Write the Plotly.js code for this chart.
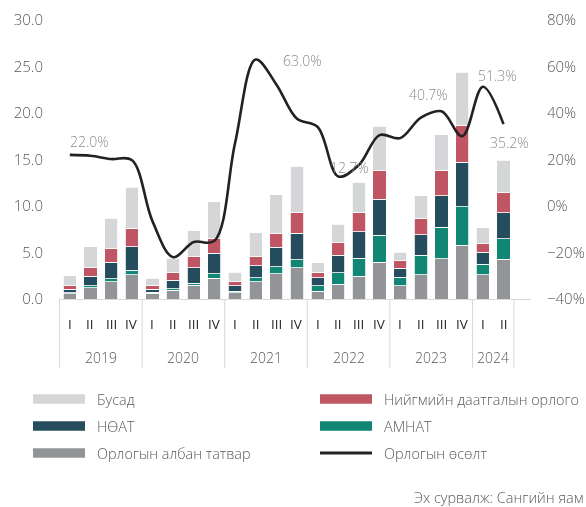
<!DOCTYPE html>
<html>
<head>
<meta charset="utf-8">
<script src="https://cdn.plot.ly/plotly-3.0.1.min.js"></script>
<style>
  html, body { margin: 0; padding: 0; background: #fff; }
  /* own layer without opaque background: text is drawn with grey-scale antialiasing */
  #chart { width: 586px; height: 507px; will-change: transform; background: transparent; }
</style>
</head>
<body>
<div id="chart"></div>
<script>
// quarters and years
const years = ['2019','2019','2019','2019','2020','2020','2020','2020','2021','2021','2021','2021',
               '2022','2022','2022','2022','2023','2023','2023','2023','2024','2024'];
const quarters = ['I','II','III','IV','I','II','III','IV','I','II','III','IV',
                  'I','II','III','IV','I','II','III','IV','I','II'];

// revenue components
const incomeTax = [0.55, 1.2, 1.85, 2.6, 0.6, 0.95, 1.5, 2.25, 0.65, 1.85, 2.7, 3.35,
                   0.85, 1.6, 2.45, 3.95, 1.45, 2.6, 4.35, 5.8, 2.6, 4.3];
const royalty   = [0.1, 0.25, 0.35, 0.5, 0.1, 0.15, 0.2, 0.45, 0.2, 0.45, 0.75, 0.85,
                   0.6, 1.25, 1.95, 2.9, 0.9, 2.1, 3.35, 4.1, 1.15, 2.2];
const vat       = [0.4, 1.0, 1.75, 2.5, 0.35, 0.9, 1.65, 2.2, 0.6, 1.3, 2.1, 2.85,
                   0.85, 1.85, 2.85, 3.9, 0.95, 2.2, 3.4, 4.8, 1.3, 2.8];
const social    = [0.4, 0.95, 1.45, 2.0, 0.45, 0.8, 1.2, 1.6, 0.45, 1.0, 1.5, 2.25,
                   0.6, 1.35, 2.1, 3.05, 0.8, 1.8, 2.75, 3.95, 0.9, 2.1];
const other     = [1.05, 2.2, 3.3, 4.4, 0.75, 1.6, 2.8, 3.95, 1.0, 2.55, 4.15, 5.0,
                   1.0, 2.0, 3.2, 4.8, 0.95, 2.4, 3.8, 5.75, 1.7, 3.5];

// revenue growth, %
const growth = [22.0, 21.6, 20.2, 19.8, -6.5, -22.0, -15.5, -15.0, 27.0, 63.0, 52.3, 37.5,
                34.0, 12.7, 17.7, 30.5, 29.2, 38.0, 40.7, 30.0, 51.3, 35.2];
const labelled = [0, 9, 13, 18, 20, 21];
// label offsets in px (dx, dy up)
const labelShift = [[20, 13], [47, -1], [11, 9], [-13, 17], [15, 11], [6, -18]];

const names = ['Орлогын албан татвар', 'АМНАТ', 'НӨАТ', 'Нийгмийн даатгалын орлого', 'Бусад', 'Орлогын өсөлт'];
const colors = ['#929497', '#118675', '#264d5e', '#c05564', '#d5d6d8', '#222222'];
const stacks = [incomeTax, royalty, vat, social, other];

const FONT = 'Open Sans, sans-serif';
const cats = years.map((y, i) => y + ' ' + quarters[i]);

const traces = stacks.map((vals, i) => ({
    type: 'bar',
    x: cats,
    y: vals,
    name: names[i],
    marker: { color: colors[i], line: { color: '#ffffff', width: 0.8 } },
    hoverinfo: 'y+name'
}));

traces.push({
    type: 'scatter',
    mode: 'lines',
    x: cats,
    y: growth,
    yaxis: 'y2',
    name: names[5],
    line: { color: colors[5], width: 2.6, shape: 'spline', smoothing: 1 }
});

const plotL = 59, plotW = 472, plotB = 299, plotH = 279;
const px = v => (v - plotL) / plotW;
const py = v => (plotB - v) / plotH;

const shapes = [];
const annotations = [];

// growth labels
labelled.forEach((idx, k) => {
    annotations.push({ xref: 'x', yref: 'y2', x: cats[idx], y: growth[idx],
        xshift: labelShift[k][0], yshift: labelShift[k][1], showarrow: false,
        text: growth[idx].toFixed(1) + '%',
        font: { family: FONT, size: 14, weight: 300, color: '#8c8c8c' } });
});

// quarter labels under the axis
quarters.forEach((q, i) => {
    annotations.push({ xref: 'x', yref: 'paper', x: cats[i], y: py(324),
        yanchor: 'middle', showarrow: false, text: q,
        font: { family: FONT, size: 13.5, color: '#262626' } });
});

// year labels and group dividers
let start = 0;
for (let i = 1; i <= years.length; i++) {
    if (i === years.length || years[i] !== years[start]) {
        annotations.push({ xref: 'x', yref: 'paper', x: (start + i - 1) / 2, y: py(357),
            yanchor: 'middle', showarrow: false, text: years[start],
            font: { family: FONT, size: 14, weight: 300, color: '#595959' } });
        shapes.push({ type: 'line', xref: 'x', yref: 'paper', x0: start - 0.5, x1: start - 0.5,
            y0: 0, y1: py(368), line: { color: '#d9d9d9', width: 1 } });
        start = i;
    }
}
shapes.push({ type: 'line', xref: 'x', yref: 'paper', x0: years.length - 0.5, x1: years.length - 0.5,
    y0: 0, y1: py(368), line: { color: '#d9d9d9', width: 1 } });

// legend drawn by hand: two columns, three rows, wide swatches
const legendOrder = [4, 3, 2, 1, 0, 5];
legendOrder.forEach((s, k) => {
    const col = k % 2, row = Math.floor(k / 2);
    const x0 = col ? 320 : 33, yc = 399 + row * 27;
    if (s === 5) {
        shapes.push({ type: 'line', xref: 'paper', yref: 'paper',
            x0: px(x0), x1: px(x0 + 52), y0: py(yc), y1: py(yc),
            line: { color: colors[s], width: 3 } });
    } else {
        shapes.push({ type: 'rect', xref: 'paper', yref: 'paper',
            x0: px(x0), x1: px(x0 + 52), y0: py(yc - 4.7), y1: py(yc + 4.7),
            fillcolor: colors[s], line: { width: 0 } });
    }
    annotations.push({ xref: 'paper', yref: 'paper', x: px(x0 + 62), y: py(yc),
        xanchor: 'left', yanchor: 'middle', showarrow: false, text: names[s],
        font: { family: FONT, size: 14.4, weight: 300, color: '#595959' } });
});

annotations.push({ xref: 'paper', yref: 'paper', x: px(412), y: py(497),
    xanchor: 'left', yanchor: 'middle', showarrow: false,
    text: 'Эх сурвалж: Сангийн яам',
    font: { family: FONT, size: 14.5, weight: 300, color: '#595959' } });

const layout = {
    width: 586,
    height: 507,
    margin: { l: plotL, r: 586 - plotL - plotW, t: 20, b: 507 - plotB },
    paper_bgcolor: 'rgba(0,0,0,0)',
    plot_bgcolor: 'rgba(0,0,0,0)',
    barmode: 'stack',
    bargap: 0.36,
    showlegend: false,
    font: { family: FONT, size: 14, color: '#595959' },
    xaxis: {
        type: 'category',
        showticklabels: false,
        showline: true,
        linecolor: '#d9d9d9',
        linewidth: 1,
        ticks: '',
        showgrid: false,
        zeroline: false
    },
    yaxis: {
        range: [0, 30],
        dtick: 5,
        tickformat: '.1f',
        showgrid: false,
        zeroline: false,
        showline: false,
        ticks: '',
        ticklabelstandoff: 15,
        tickfont: { family: FONT, size: 15, weight: 300, color: '#595959' }
    },
    yaxis2: {
        overlaying: 'y',
        side: 'right',
        range: [-40, 80],
        dtick: 20,
        ticksuffix: '%',
        showgrid: false,
        zeroline: false,
        showline: false,
        ticks: '',
        ticklabelstandoff: 15,
        tickfont: { family: FONT, size: 15, weight: 300, color: '#595959' }
    },
    shapes: shapes,
    annotations: annotations
};

Plotly.newPlot('chart', traces, layout, { displayModeBar: false, staticPlot: true });
</script>
</body>
</html>
